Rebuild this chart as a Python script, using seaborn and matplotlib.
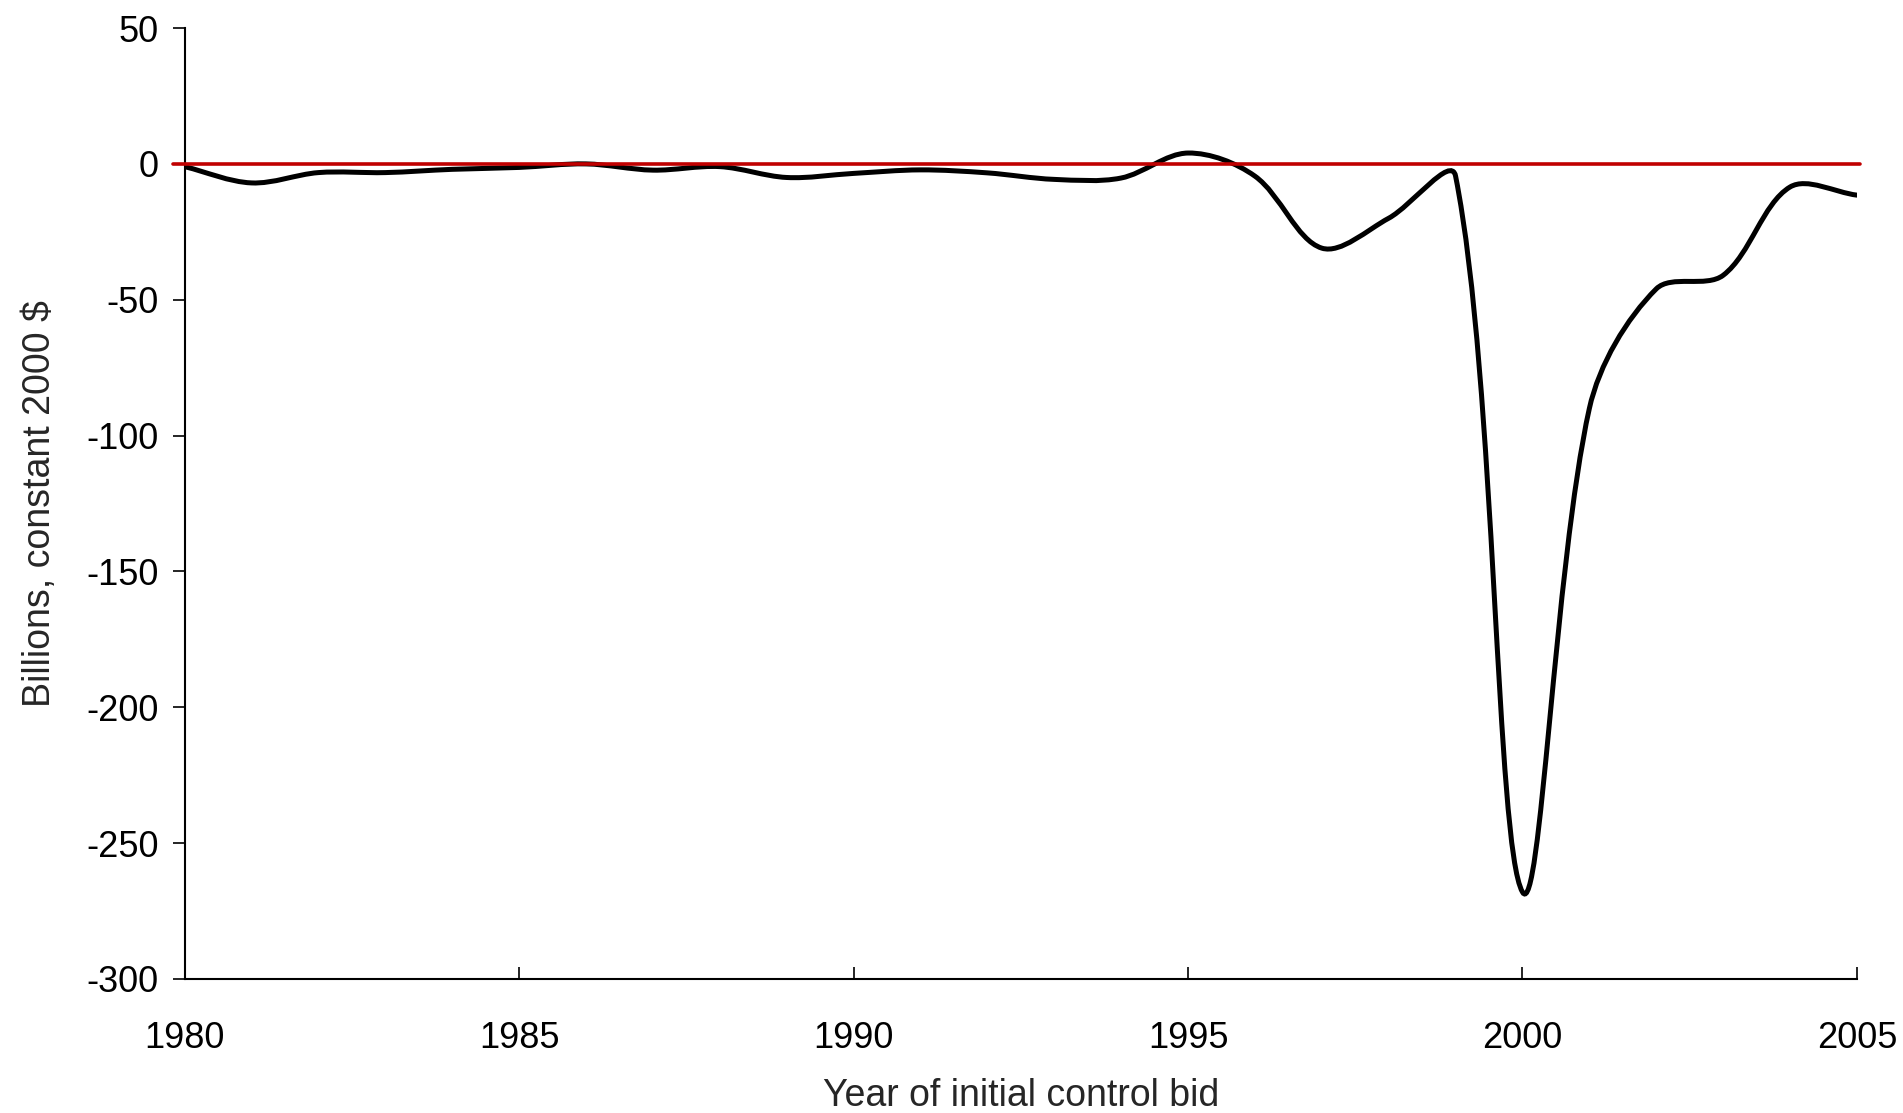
import numpy as np
import matplotlib.pyplot as plt
import seaborn as sns
from matplotlib.path import Path
from matplotlib.patches import PathPatch

years = list(range(1980, 2006))
billions = [-1, -7, -3.2, -3.2, -2, -1.3, 0, -2.3, -1, -5,
            -3.5, -2.2, -3.3, -5.7, -5.2, 4, -4.5, -31, -20, -4.5,
            -268, -90, -46, -41, -8.5, -11.5]
x_ticks = [1980, 1985, 1990, 1995, 2000, 2005]
y_ticks = [50, 0, -50, -100, -150, -200, -250, -300]

sns.set_style("ticks")
plt.rcParams['font.family'] = ['Liberation Sans', 'DejaVu Sans']
plt.rcParams['axes.unicode_minus'] = False


def smooth_path(ax, xs, ys):
    # spreadsheet-style smoothed line: one cubic bezier per segment,
    # handles scaled by segment length in screen space
    pts = ax.transData.transform(np.column_stack([xs, ys]))
    n = len(pts)
    verts = [pts[0]]
    codes = [Path.MOVETO]
    for i in range(n - 1):
        p0 = pts[max(i - 1, 0)]
        p1 = pts[i]
        p2 = pts[i + 1]
        p3 = pts[min(i + 2, n - 1)]
        d01 = np.hypot(*(p1 - p0))
        d12 = np.hypot(*(p2 - p1))
        d23 = np.hypot(*(p3 - p2))
        c1 = p1 + (p2 - p0) * d12 / (d01 + d12) / 3
        c2 = p2 - (p3 - p1) * d12 / (d12 + d23) / 3
        verts += [c1, c2, p2]
        codes += [Path.CURVE4] * 3
    verts = ax.transData.inverted().transform(np.array(verts))
    return Path(verts, codes)


fig = plt.figure(figsize=(19.03, 11.13), dpi=100)
ax = fig.add_axes([0.097, 0.1204, 0.8788, 0.8544])
ax.set_xlim(1980, 2005)
ax.set_ylim(-300, 50)

patch = PathPatch(smooth_path(ax, years, billions), facecolor='none',
                  edgecolor='black', lw=3.6, zorder=3, capstyle='round')
ax.add_patch(patch)
ax.axhline(0, xmin=-0.007, xmax=1.002, color='#C00000', lw=2.6,
           zorder=4, clip_on=False)

ax.set_xticks(x_ticks)
ax.set_yticks(y_ticks)
ax.tick_params(axis='x', direction='in', length=8.6, width=1.2, pad=30,
               labelsize=26, colors='black')
ax.tick_params(axis='y', direction='out', length=8.6, width=1.2, pad=10,
               labelsize=26, colors='black')
for side in ['left', 'bottom']:
    ax.spines[side].set_linewidth(1.5)
    ax.spines[side].set_color('black')
sns.despine(ax=ax)

ax.set_xlabel('Year of initial control bid', fontsize=27, labelpad=16)
ax.set_ylabel('Billions, constant 2000 $', fontsize=27, labelpad=20)

fig.savefig('out.png', dpi=100, facecolor='white')
